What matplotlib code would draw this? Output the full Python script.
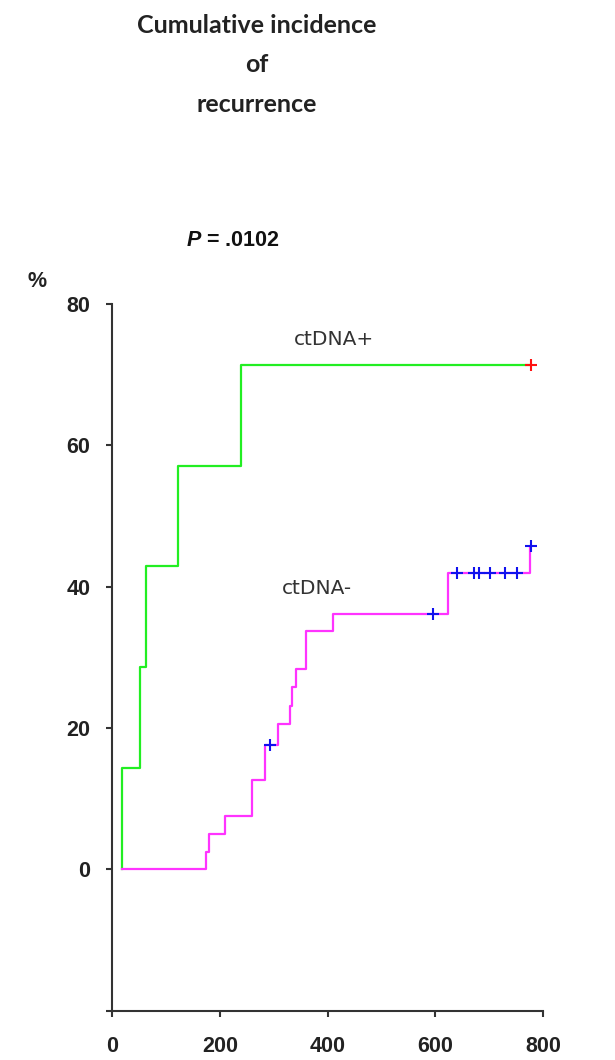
import matplotlib
matplotlib.use('Agg')
import matplotlib.pyplot as plt

# ctDNA+ group (green), cumulative incidence in %
pos_days = [17, 17, 52, 63, 122, 239, 778]
pos_cuminc = [0, 14.3, 28.6, 42.9, 57.1, 71.4, 71.4]
pos_cens_days = [778]
pos_cens_val = [71.4]

# ctDNA- group (magenta)
neg_days = [17, 174, 179, 210, 260, 284, 308, 330, 334, 341, 359, 409, 624, 775, 778]
neg_cuminc = [0, 2.5, 5.0, 7.5, 12.7, 17.6, 20.5, 23.1, 25.8, 28.3, 33.7, 36.2, 41.9, 45.7, 45.7]
neg_cens_days = [292, 596, 641, 671, 681, 702, 730, 752, 778]
neg_cens_val = [17.6, 36.2, 41.9, 41.9, 41.9, 41.9, 41.9, 41.9, 45.7]

x_ticks = [0, 200, 400, 600, 800]
y_ticks = [-20, 0, 20, 40, 60, 80]
y_tick_labels = ['', '0', '20', '40', '60', '80']

plt.rcParams['mathtext.fontset'] = 'custom'
plt.rcParams['mathtext.it'] = 'Liberation Sans:italic:bold'

fig = plt.figure(figsize=(6.15, 10.6), dpi=100)
ax = fig.add_axes([0.1829, 0.0465, 0.7000, 0.6667])

ax.step(pos_days, pos_cuminc, where='post', color='#22ee22', lw=1.6)
ax.step(neg_days, neg_cuminc, where='post', color='#ff33ff', lw=1.6)
ax.plot(pos_cens_days, pos_cens_val, ls='none', marker='+', ms=9, mew=1.5, color='#ff1111')
ax.plot(neg_cens_days, neg_cens_val, ls='none', marker='+', ms=9, mew=1.5, color='#1111ee')

ax.set_xlim(0, 800)
ax.set_ylim(-20, 80)
ax.set_xticks(x_ticks)
ax.set_yticks(y_ticks)
ax.set_yticklabels(y_tick_labels)

for s in ['top', 'right']:
    ax.spines[s].set_visible(False)
for s in ['left', 'bottom']:
    ax.spines[s].set_color('#333333')
    ax.spines[s].set_linewidth(1.5)
ax.tick_params(direction='out', length=4, width=1.5, color='#333333')
ax.tick_params(axis='x', pad=14)
ax.tick_params(axis='y', pad=12)
for lab in ax.get_xticklabels() + ax.get_yticklabels():
    lab.set_fontfamily('Liberation Sans')
    lab.set_fontweight('bold')
    lab.set_fontsize(15.5)
    lab.set_color('#222222')

ax.text(411, 74.2, 'ctDNA+', ha='center', va='baseline', fontsize=14.5,
        family='DejaVu Sans', color='#333333')
ax.text(380, 38.9, 'ctDNA-', ha='center', va='baseline', fontsize=14.5,
        family='DejaVu Sans', color='#333333')

# title lines and annotations in figure pixels
W, H = 615, 1060
for txt, yb in [('Cumulative incidence', 33), ('of', 72), ('recurrence', 112)]:
    fig.text(256.5 / W, 1 - yb / H, txt, ha='center', va='baseline',
             fontsize=18, family='Lato', fontweight='bold', color='#222222')
fig.text(233 / W, 1 - 246 / H, r'$\mathit{P}$ = .0102', ha='center', va='baseline',
         fontsize=15.5, family='Liberation Sans', fontweight='bold', color='#111111')
fig.text(36.7 / W, 1 - 287 / H, '%', ha='center', va='baseline',
         fontsize=15.5, family='Liberation Sans', fontweight='bold', color='#222222')

fig.savefig('out.png', dpi=100, facecolor='white')
